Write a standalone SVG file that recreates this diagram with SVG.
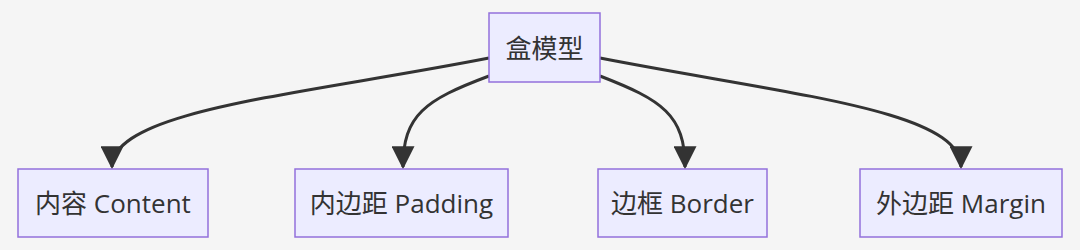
<svg xmlns="http://www.w3.org/2000/svg" width="1080" height="250" viewBox="0 0 1080 250">
<defs>
<style>
.bg{fill:#f5f5f5}
.node rect{fill:#ECECFF;stroke:#9370DB;stroke-width:1.5}
.node text{font-family:"Open Sans","Noto Sans CJK SC",sans-serif;font-size:26px;fill:#333;text-anchor:middle;dominant-baseline:central}
.edge{fill:none;stroke:#333;stroke-width:3}
</style>
<marker id="arr" markerUnits="userSpaceOnUse" markerWidth="23" markerHeight="23" viewBox="0 0 20 20" refX="18" refY="10" orient="auto">
<path d="M0,0 L20,10 L0,20 z" fill="#333"/>
</marker>
</defs>
<rect class="bg" x="0" y="0" width="1080" height="250"/>
<g id="connectors">
<path class="edge" d="M489,58 C300,95 112,110 112,167" marker-end="url(#arr)"/>
<path class="edge" d="M489,76 C425,100 403,115 403,167" marker-end="url(#arr)"/>
<path class="edge" d="M600,76 C662,100 685,115 685,167" marker-end="url(#arr)"/>
<path class="edge" d="M600,58 C790,95 961,110 961,167" marker-end="url(#arr)"/>
</g>
<g id="root" class="node">
<rect x="489" y="13" width="111" height="69"/>
<text x="544.5" y="47.5">盒模型</text>
</g>
<g id="content" class="node">
<rect x="18" y="169" width="190" height="68"/>
<text x="113" y="203">内容 Content</text>
</g>
<g id="padding" class="node">
<rect x="295" y="169" width="213" height="68"/>
<text x="401.5" y="203">内边距 Padding</text>
</g>
<g id="border" class="node">
<rect x="598" y="169" width="169" height="68"/>
<text x="682.5" y="203">边框 Border</text>
</g>
<g id="margin" class="node">
<rect x="860" y="169" width="202" height="68"/>
<text x="961" y="203">外边距 Margin</text>
</g>
</svg>
